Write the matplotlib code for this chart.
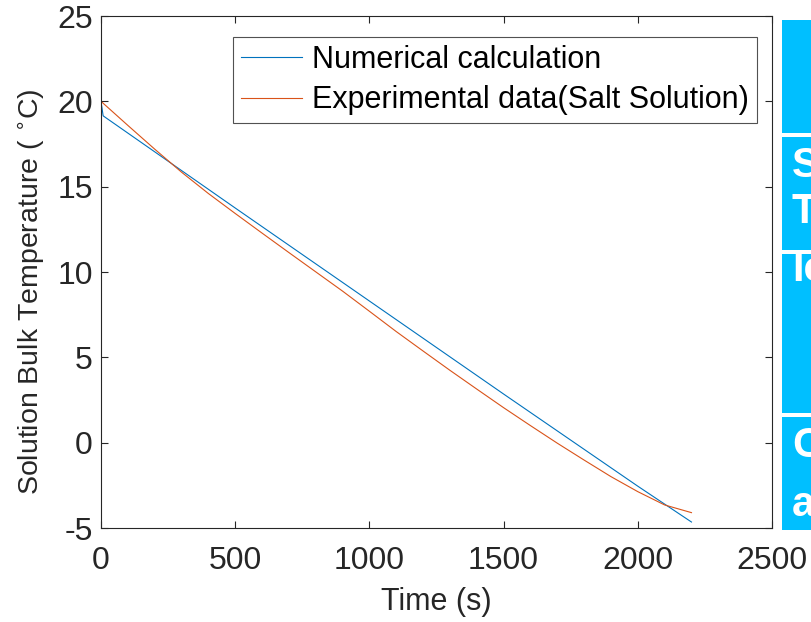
import matplotlib
matplotlib.use('Agg')
import matplotlib.pyplot as plt
from matplotlib.patches import Rectangle

plt.rcParams['font.family'] = ['Liberation Sans', 'DejaVu Sans']
plt.rcParams['axes.unicode_minus'] = False

# numerical calculation (blue)
t_num = [0, 8, 500, 1000, 1500, 2000, 2200]
T_num = [20.0, 19.15, 13.75, 8.3, 2.85, -2.55, -4.65]

# experimental data, salt solution (orange)
t_exp = [0, 100, 200, 300, 400, 500, 600, 700, 800, 900, 1000, 1100,
         1200, 1300, 1400, 1500, 1600, 1700, 1800, 1900, 2000, 2100, 2200]
T_exp = [20.0, 18.59, 17.2, 15.85, 14.6, 13.43, 12.28, 11.14, 10.01, 8.88,
         7.7, 6.51, 5.37, 4.24, 3.14, 2.05, 1.0, -0.03, -1.02, -1.99,
         -2.87, -3.65, -4.1]

x_ticks = [0, 500, 1000, 1500, 2000, 2500]
y_ticks = [-5, 0, 5, 10, 15, 20, 25]

fig = plt.figure(figsize=(8.11, 6.22), dpi=100)
ax = fig.add_axes([101/811, 1 - 528/622, (772 - 101)/811, (528 - 16)/622])

ax.plot(t_num, T_num, color='#0072BD', lw=0.8, label='Numerical calculation')
ax.plot(t_exp, T_exp, color='#D95319', lw=0.8, label='Experimental data(Salt Solution)')

ax.set_xlim(0, 2500)
ax.set_ylim(-5, 25)
ax.set_xticks(x_ticks)
ax.set_yticks(y_ticks)
ax.tick_params(direction='in', length=5, width=0.8, color='#262626',
               labelsize=23, labelcolor='#262626', top=True, right=True)
ax.tick_params(axis='x', pad=13)
ax.tick_params(axis='y', pad=6)
for s in ax.spines.values():
    s.set_color('#262626')
    s.set_linewidth(0.8)

ax.set_xlabel('Time (s)', fontsize=22, color='#262626', labelpad=8)
ax.set_ylabel('Solution Bulk Temperature ( $^{\\circ}$C)', fontsize=20.5,
              color='#262626')
ax.yaxis.set_label_coords(-0.080, 0.461)

leg = ax.legend(loc='upper right', bbox_to_anchor=(0.9776, 0.959),
                borderaxespad=0, fontsize=22, frameon=True, fancybox=False,
                handlelength=2.0, handletextpad=0.35, borderpad=0.25,
                labelspacing=0.35)
leg.get_frame().set_edgecolor('#262626')
leg.get_frame().set_linewidth(0.8)

# cut-off slide panel on the right
cyan = '#00BFFF'
for y0, y1 in [(20, 133), (137, 250), (254, 413), (417, 530)]:
    fig.patches.append(Rectangle((782/811, 1 - y1/622), 40/811, (y1 - y0)/622,
                                 transform=fig.transFigure, color=cyan, lw=0))
for txt, yc in [('S', 166), ('T', 212), ('Ic', 270), ('C', 446), ('a', 505)]:
    fig.text(792/811, 1 - yc/622, txt, color='white', fontsize=30,
             fontweight='bold', va='center', ha='left')

fig.savefig('out.png', dpi=100)
